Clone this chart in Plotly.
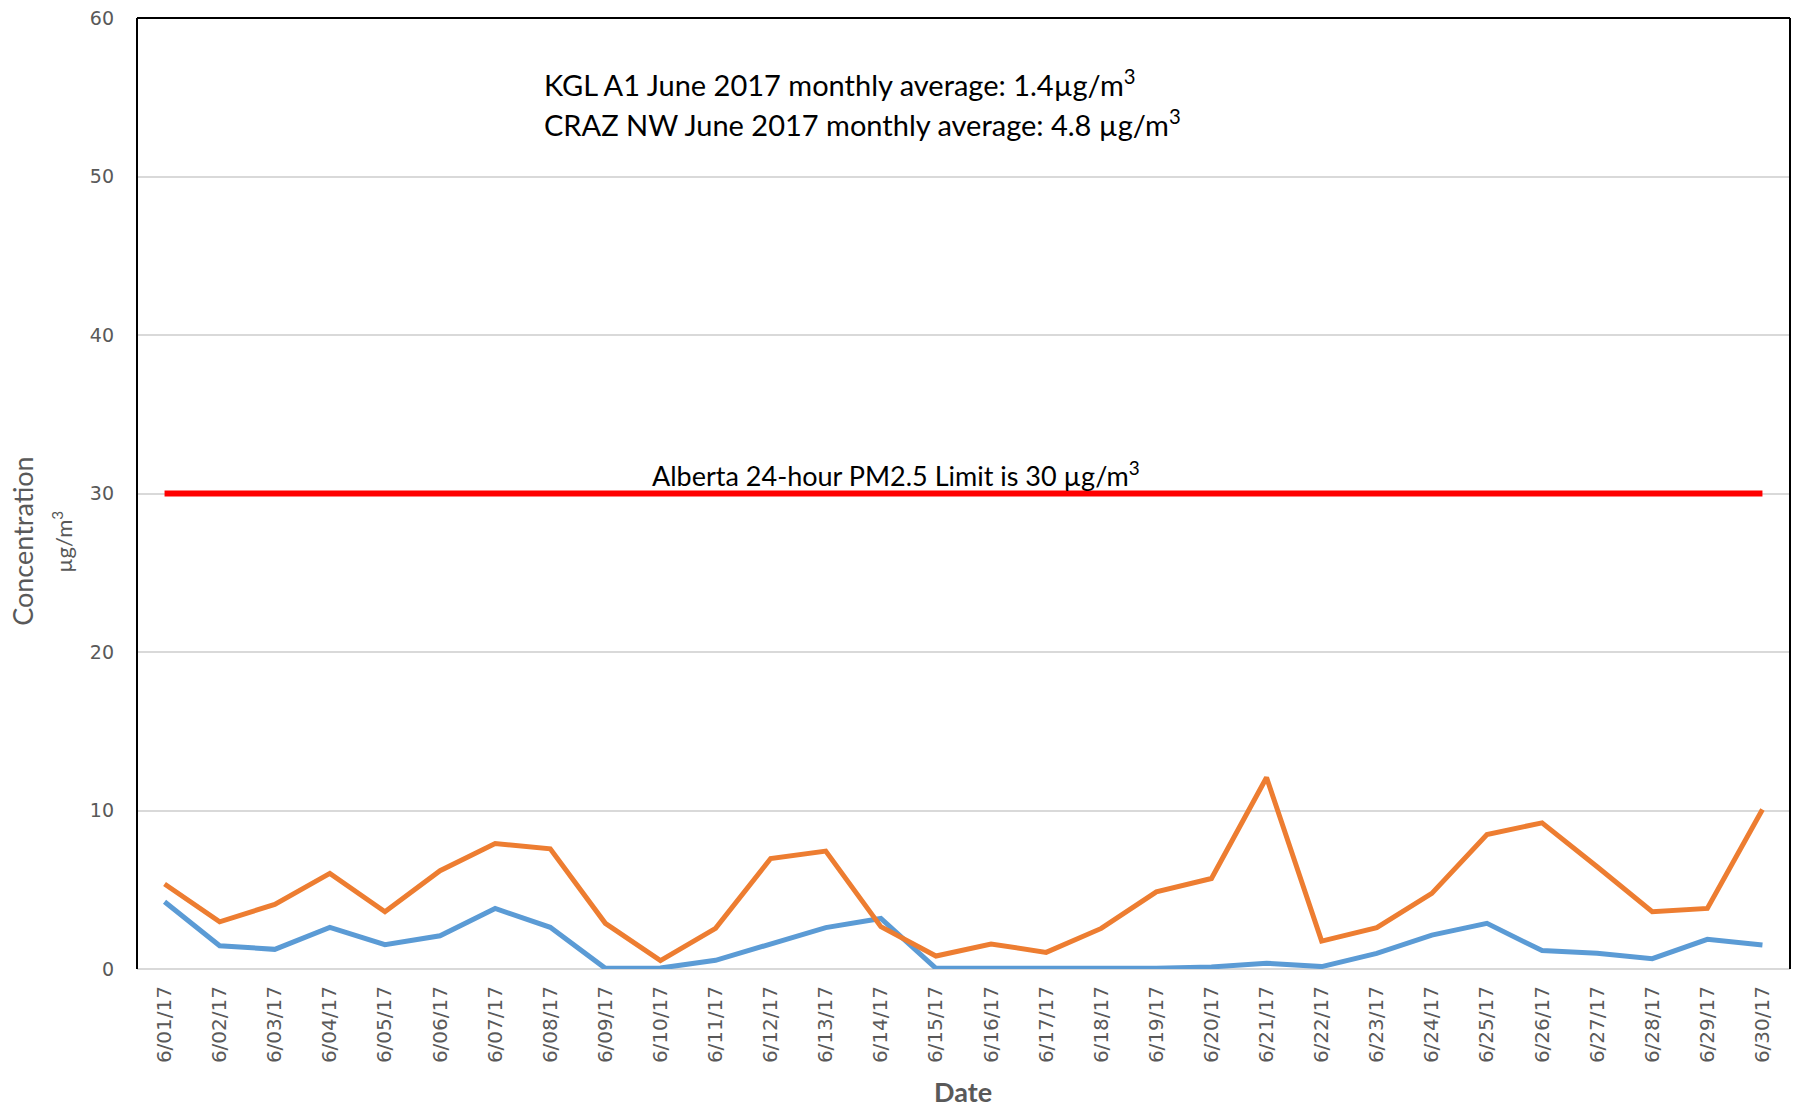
import plotly.graph_objects as go

dates = ["6/01/17", "6/02/17", "6/03/17", "6/04/17", "6/05/17", "6/06/17", "6/07/17", "6/08/17",
         "6/09/17", "6/10/17", "6/11/17", "6/12/17", "6/13/17", "6/14/17", "6/15/17", "6/16/17",
         "6/17/17", "6/18/17", "6/19/17", "6/20/17", "6/21/17", "6/22/17", "6/23/17", "6/24/17",
         "6/25/17", "6/26/17", "6/27/17", "6/28/17", "6/29/17", "6/30/17"]

kgl_a1 = [4.24, 1.47, 1.24, 2.63, 1.53, 2.10, 3.82, 2.63, 0.04, 0.06, 0.55, 1.58, 2.61, 3.19, 0.04,
          0.04, 0.04, 0.04, 0.04, 0.13, 0.36, 0.15, 0.99, 2.14, 2.88, 1.16, 0.99, 0.65, 1.87, 1.51]

craz_nw = [5.36, 2.98, 4.08, 6.03, 3.61, 6.20, 7.92, 7.58, 2.88, 0.53, 2.56, 6.97, 7.44, 2.67, 0.82,
           1.58, 1.05, 2.56, 4.87, 5.71, 12.08, 1.76, 2.61, 4.77, 8.49, 9.22, 6.45, 3.61, 3.82, 10.06]

limit_value = 30
limit_series = [limit_value] * len(dates)

y_ticks = [0, 10, 20, 30, 40, 50, 60]

fig = go.Figure()
fig.add_trace(go.Scatter(x=dates, y=limit_series, mode="lines",
                         line=dict(color="#FF0000", width=6), name="Limit", showlegend=False))
fig.add_trace(go.Scatter(x=dates, y=kgl_a1, mode="lines",
                         line=dict(color="#5B9BD5", width=5), name="KGL A1", showlegend=False))
fig.add_trace(go.Scatter(x=dates, y=craz_nw, mode="lines",
                         line=dict(color="#ED7D31", width=5), name="CRAZ NW", showlegend=False))

xtick_font = dict(family="DejaVu Sans", size=20, color="#595959")
ytick_font = dict(family="DejaVu Sans", size=19, color="#595959")
ann_font = dict(family="Lato", size=29, color="#000000")

PX = 1653  # plot width
PY = 955   # plot height

fig.update_layout(
    width=1797, height=1110,
    margin=dict(l=137, r=7, t=14, b=141),
    paper_bgcolor="white", plot_bgcolor="white",
    xaxis=dict(type="category", range=[-0.5, len(dates) - 0.5], tickangle=-90,
               tickfont=xtick_font, showgrid=False, zeroline=False, showline=False,
               ticks="", ticklabelstandoff=12),
    yaxis=dict(range=[0, 60], tickvals=y_ticks, tickfont=ytick_font,
               showgrid=True, gridcolor="#D9D9D9", gridwidth=2,
               zeroline=True, zerolinecolor="#D9D9D9", zerolinewidth=2,
               showline=False, ticks="", ticklabelstandoff=22),
    shapes=[
        dict(type="line", xref="paper", yref="paper", x0=0, x1=0, y0=0, y1=1,
             line=dict(color="black", width=2)),
        dict(type="line", xref="paper", yref="paper", x0=0, x1=1, y0=1, y1=1,
             line=dict(color="black", width=2)),
        dict(type="line", xref="paper", yref="paper", x0=1, x1=1, y0=0, y1=1,
             line=dict(color="black", width=2)),
    ],
    annotations=[
        dict(text="KGL A1 June 2017 monthly average: 1.4µg/m<sup>3</sup>", xref="paper", yref="y",
             x=(542 - 137) / PX, y=55.9, xanchor="left", yanchor="middle", showarrow=False, font=ann_font),
        dict(text="CRAZ NW June 2017 monthly average: 4.8 µg/m<sup>3</sup>", xref="paper", yref="y",
             x=(542 - 137) / PX, y=53.38, xanchor="left", yanchor="middle", showarrow=False, font=ann_font),
        dict(text="Alberta 24-hour PM2.5 Limit is 30 µg/m<sup>3</sup>", xref="paper", yref="y",
             x=(896 - 137) / PX, y=31.2, xanchor="center", yanchor="middle", showarrow=False,
             font=dict(family="Lato", size=27, color="#000000")),
        dict(text="Concentration", xref="paper", yref="paper", x=(23 - 137) / PX,
             y=(969 - 540) / PY, textangle=-90, showarrow=False, xanchor="center", yanchor="middle",
             font=dict(family="Lato", size=27, color="#595959")),
        dict(text="µg/m<sup>3</sup>", xref="paper", yref="paper", x=(63 - 137) / PX,
             y=(969 - 540) / PY, textangle=-90, showarrow=False, xanchor="center", yanchor="middle",
             font=dict(family="Lato", size=22, color="#595959")),
        dict(text="<b>Date</b>", xref="paper", yref="paper", x=(963 - 137) / PX,
             y=-(1092 - 969) / PY, showarrow=False, xanchor="center", yanchor="middle",
             font=dict(family="Lato", size=27, color="#595959")),
    ],
)

fig.write_html("out.html", config={"displayModeBar": False},
               post_script="document.body.style.margin='0px';")
